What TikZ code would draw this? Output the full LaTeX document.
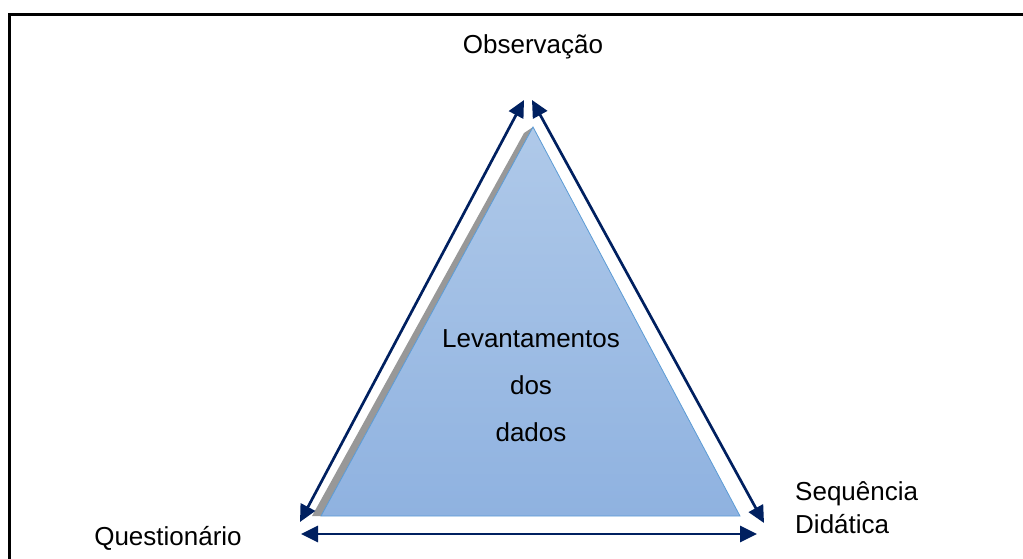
\documentclass[tikz,border=0pt]{standalone}
\usepackage{fontspec}
\setmainfont{Liberation Sans}
\usetikzlibrary{arrows.meta}
\definecolor{navy}{HTML}{002060}
\definecolor{tritop}{HTML}{AFC9E9}
\definecolor{tribot}{HTML}{8FB2E0}
\definecolor{triedge}{HTML}{5B9BD5}
\definecolor{shadowgray}{HTML}{989898}
\tikzset{
  lbl/.style={font=\fontsize{26}{30}\selectfont, text=black, inner sep=0pt},
  dblarrow/.style={draw=navy, line width=2.7pt, {Triangle[length=17pt,width=16pt]}-{Triangle[length=17pt,width=16pt]}},
}
\begin{document}
\begin{tikzpicture}[x=1pt,y=-1pt]
\useasboundingbox (0,0) rectangle (1023,559);
\begin{scope}
\clip (0,0) rectangle (1023,559);
\draw[line width=3pt, black] (9.5,14.5) rectangle (1040,580);
\end{scope}
% shadow triangle
\fill[shadowgray] (524,133) -- (312,516) -- (321,516) -- (533,127) -- cycle;
% main triangle
\coordinate (T) at (533,127);
\coordinate (BL) at (321,516);
\coordinate (BR) at (740,516);
\shade[top color=tritop, bottom color=tribot] (T) -- (BL) -- (BR) -- cycle;
\draw[triedge, line width=0.8pt, line join=miter] (T) -- (BL) -- (BR) -- cycle;
% arrow end points
\coordinate (l1) at (300,522);
\coordinate (l2) at (524,100);
\coordinate (r1) at (532,100);
\coordinate (r2) at (764,523);
\coordinate (b1) at (301,534);
\coordinate (b2) at (757,534);
\draw[dblarrow] (l1) -- (l2);
\draw[dblarrow] (r1) -- (r2);
\draw[dblarrow] (b1) -- (b2);
% labels
\node[lbl] (obs) at (533,47) {Observação};
\node[lbl] (que) at (168,538) {Questionário};
\node[lbl, anchor=west] (seq) at (795,494) {Sequência};
\node[lbl, anchor=west] (did) at (795,524) {Didática};
\node[lbl] (lev) at (531,339) {Levantamentos};
\node[lbl] (dos) at (531,385) {dos};
\node[lbl] (dad) at (531,432) {dados};
\end{tikzpicture}
\end{document}
